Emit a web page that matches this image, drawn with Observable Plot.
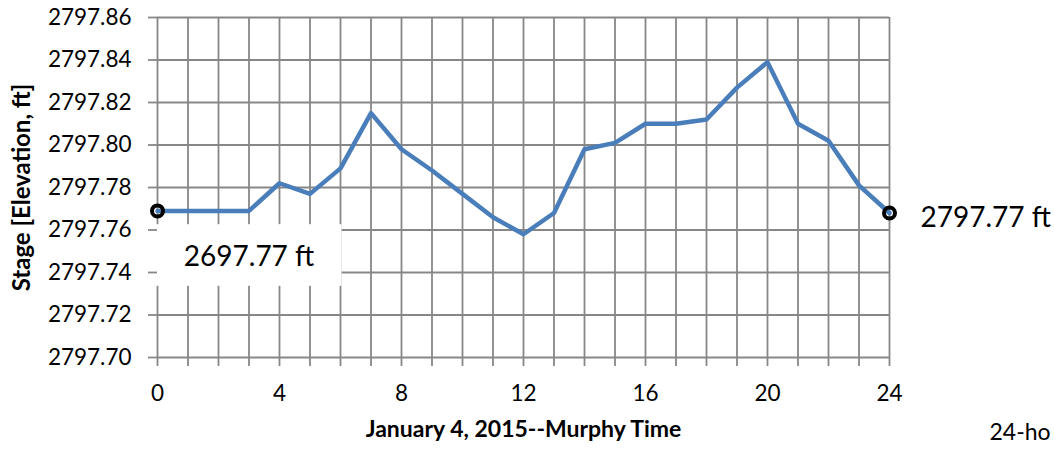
<!DOCTYPE html>
<html>
<head>
<meta charset="utf-8">
<script src="https://cdn.jsdelivr.net/npm/d3@7"></script>
<script src="https://cdn.jsdelivr.net/npm/@observablehq/plot@0.6"></script>
<style>
  html, body { margin: 0; padding: 0; background: #fff; overflow: hidden; }
  #chart svg { display: block; }
</style>
</head>
<body>
<div id="chart"></div>
<script>
// ---- data ----
const hours = [0, 1, 2, 3, 4, 5, 6, 7, 8, 9, 10, 11, 12, 13, 14, 15, 16, 17, 18, 19, 20, 21, 22, 23, 24];
const stage = [2797.769, 2797.769, 2797.769, 2797.769, 2797.782, 2797.777, 2797.789, 2797.815, 2797.798,
               2797.788, 2797.777, 2797.766, 2797.758, 2797.768, 2797.798, 2797.801, 2797.810, 2797.810,
               2797.812, 2797.827, 2797.839, 2797.810, 2797.802, 2797.781, 2797.768];
const xTickLabels = [0, 4, 8, 12, 16, 20, 24];
const yTickValues = [2797.70, 2797.72, 2797.74, 2797.76, 2797.78, 2797.80, 2797.82, 2797.84, 2797.86];
const xTitle = "January 4, 2015--Murphy Time";
const yTitle = "Stage [Elevation, ft]";
const startLabel = "2697.77 ft";
const endLabel = "2797.77 ft";
const footText = "24-ho";
// annotation box for the start label (in data units)
const startBoxHours = [-0.07, 6.05];
const startBoxStage = [2797.7335, 2797.7625];
const startLabelPos = [3.0, 2797.7475];

const data = hours.map((h, i) => ({hour: h, stage: stage[i]}));
const ends = [data[0], data[data.length - 1]];
const endPoint = data[data.length - 1];

const gridColor = "#878787";
const lineColor = "#4a7ebb";

const chart = Plot.plot({
  width: 1054,
  height: 449,
  marginLeft: 157,
  marginRight: 165,
  marginTop: 17,
  marginBottom: 92,
  style: {fontFamily: "Lato, 'Open Sans', sans-serif", background: "#fff", color: "#000"},
  x: {domain: [0, 24]},
  y: {domain: [2797.70, 2797.86]},
  marks: [
    Plot.gridX(hours, {stroke: gridColor, strokeOpacity: 1, strokeWidth: 1.8}),
    Plot.gridY(yTickValues, {stroke: gridColor, strokeOpacity: 1, strokeWidth: 1.8}),
    Plot.rect([{x1: startBoxHours[0], x2: startBoxHours[1], y1: startBoxStage[0], y2: startBoxStage[1]}],
      {x1: "x1", x2: "x2", y1: "y1", y2: "y2", fill: "#fff"}),
    Plot.axisX(hours, {tickSize: 9, stroke: gridColor, strokeWidth: 1.8, text: null, label: null}),
    Plot.axisX(xTickLabels, {tickSize: 0, tickPadding: 28, fontSize: 22.5, fill: "#000", label: null}),
    Plot.axisY(yTickValues, {tickSize: 9, tickPadding: 17, stroke: gridColor, strokeWidth: 1.8,
      tickFormat: d => d.toFixed(2), fontSize: 22.5, fill: "#000", label: null}),
    Plot.line(data, {x: "hour", y: "stage", stroke: lineColor, strokeWidth: 4.5, strokeLinejoin: "round"}),
    Plot.dot(ends, {x: "hour", y: "stage", r: 5.5, stroke: "#000", strokeWidth: 4, fill: "none"}),
    Plot.text([startLabel], {x: () => startLabelPos[0], y: () => startLabelPos[1], text: d => d,
      fontSize: 28, fill: "#000", textAnchor: "middle", lineAnchor: "middle"}),
    Plot.text([endPoint], {x: "hour", y: "stage", text: () => endLabel, dx: 31, dy: 5,
      fontSize: 28, fill: "#000", textAnchor: "start", lineAnchor: "middle"}),
    Plot.text([xTitle], {frameAnchor: "bottom", dy: 72, text: d => d, fontSize: 23, fontWeight: "bold",
      fill: "#000", textAnchor: "middle", lineAnchor: "middle"}),
    Plot.text([yTitle], {frameAnchor: "left", dx: -135, rotate: -90, text: d => d, fontSize: 24,
      fontWeight: "bold", fill: "#000", textAnchor: "middle", lineAnchor: "middle"}),
    Plot.text([footText], {frameAnchor: "bottom-right", dx: 100, dy: 75, text: d => d, fontSize: 23,
      fill: "#000", textAnchor: "start", lineAnchor: "middle"})
  ]
});
document.getElementById("chart").appendChild(chart);
</script>
</body>
</html>
